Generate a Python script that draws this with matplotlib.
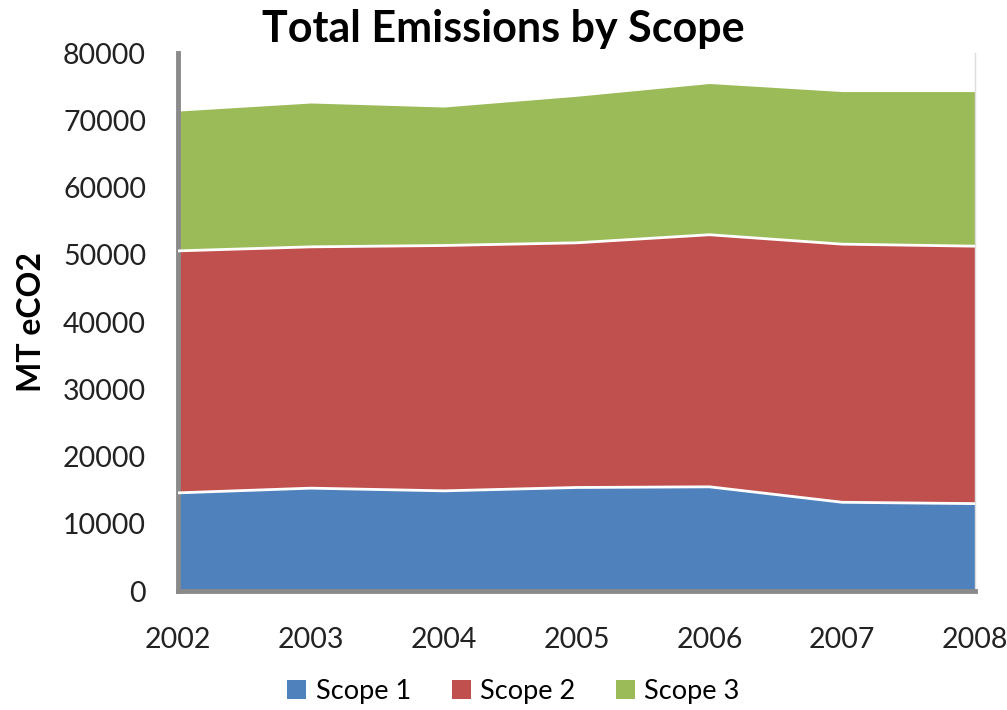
import matplotlib
matplotlib.use("Agg")
import matplotlib.pyplot as plt
from matplotlib.patches import Patch
import numpy as np

# annual emissions per scope, MT eCO2
years = [2002, 2003, 2004, 2005, 2006, 2007, 2008]
scope1 = [14600, 15300, 14900, 15400, 15500, 13200, 13000]
scope2 = [36000, 35900, 36500, 36400, 37500, 38400, 38300]
scope3 = [20800, 21400, 20600, 21800, 22500, 22700, 23000]

labels = ["Scope 1", "Scope 2", "Scope 3"]
colors = ["#4F81BD", "#C0504D", "#9BBB59"]
yticks = [0, 10000, 20000, 30000, 40000, 50000, 60000, 70000, 80000]

plt.rcParams["font.family"] = ["Lato", "DejaVu Sans"]

fig = plt.figure(figsize=(10.07, 7.10), dpi=100)
ax = fig.add_axes([0.1768, 0.1676, 0.7915, 0.7574])

layers = np.vstack([scope1, scope2, scope3])
tops = np.cumsum(layers, axis=0)
bottoms = np.vstack([np.zeros(len(years)), tops[:-1]])

for lo, hi, c in zip(bottoms, tops, colors):
    ax.fill_between(years, lo, hi, color=c, linewidth=0, zorder=2)

# thin white seams between stacked layers
for hi in tops[:-1]:
    ax.plot(years, hi, color="white", lw=2.0, zorder=3)

ax.set_xlim(years[0], years[-1])
ax.set_ylim(0, 80000)
ax.set_yticks(yticks)
ax.set_yticklabels([str(v) for v in yticks])
ax.set_xticks(years)
ax.set_xticklabels([str(y) for y in years])
ax.tick_params(axis="both", length=0, labelsize=20.5, colors="#222222")
ax.tick_params(axis="y", pad=23)
ax.tick_params(axis="x", pad=26)

ax.spines["top"].set_visible(False)
ax.spines["right"].set_color("#dddddd")
ax.spines["right"].set_linewidth(1.0)
for side in ["left", "bottom"]:
    ax.spines[side].set_color("#8a8a8a")
    ax.spines[side].set_linewidth(3.5)

ax.set_ylabel("MT eCO2", fontsize=23, fontweight="bold", labelpad=12)
fig.suptitle("Total Emissions by Scope", fontsize=31, fontweight="bold",
             x=0.5, y=0.987)

handles = [Patch(facecolor=c, edgecolor="none") for c in colors]
fig.legend(handles, labels, loc="lower center", ncol=3, frameon=False,
           fontsize=19.5, bbox_to_anchor=(0.51, -0.026), handlelength=0.7,
           handleheight=0.7, handletextpad=0.35, columnspacing=1.5)

fig.savefig("out.png", dpi=100)
